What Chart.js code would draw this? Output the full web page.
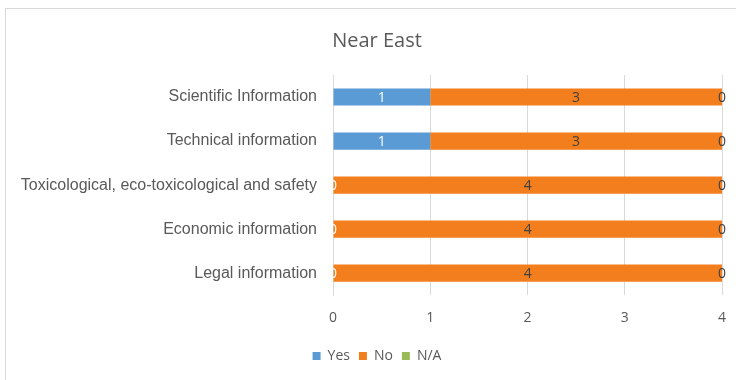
<!DOCTYPE html>
<html>
<head>
<meta charset="utf-8">
<script src="https://cdn.jsdelivr.net/npm/chart.js@4"></script>
<style>
  html, body { margin: 0; padding: 0; background: #fff; }
  #wrap { width: 736px; height: 380px; }
</style>
</head>
<body>
<div id="wrap"><canvas id="barChart" width="736" height="380"></canvas></div>
<script>
// Chart data
const categories = [
    'Scientific Information',
    'Technical information',
    'Toxicological, eco-toxicological and safety',
    'Economic information',
    'Legal information'
];
const yesValues = [1, 1, 0, 0, 0];
const noValues = [3, 3, 4, 4, 4];
const naValues = [0, 0, 0, 0, 0];
const xTicks = [0, 1, 2, 3, 4];

const seriesColors = { yes: '#5b9bd5', no: '#f27e1e', na: '#9bbb59' };
const labelColors = ['#ffffff', '#404040', '#404040'];
const textColor = '#595959';

// White background plus the light frame round the chart
const framePlugin = {
    id: 'frame',
    beforeDraw(chart) {
        const ctx = chart.ctx;
        ctx.save();
        ctx.fillStyle = '#ffffff';
        ctx.fillRect(0, 0, chart.width, chart.height);
        ctx.strokeStyle = '#d9d9d9';
        ctx.lineWidth = 1;
        ctx.strokeRect(5.5, 8.5, chart.width + 20, chart.height + 20);
        ctx.restore();
    }
};

// Value labels centred on each bar segment
const valueLabels = {
    id: 'valueLabels',
    afterDatasetsDraw(chart) {
        const ctx = chart.ctx;
        ctx.save();
        ctx.font = '14px "Open Sans"';
        ctx.textAlign = 'center';
        ctx.textBaseline = 'middle';
        chart.data.datasets.forEach((ds, i) => {
            const meta = chart.getDatasetMeta(i);
            ctx.fillStyle = labelColors[i];
            meta.data.forEach((bar, j) => {
                const cx = (bar.x + bar.base) / 2;
                ctx.fillText(String(ds.data[j]), cx, bar.y + 1);
            });
        });
        ctx.restore();
    }
};

const ctx = document.getElementById('barChart').getContext('2d');
const chart = new Chart(ctx, {
    type: 'bar',
    data: {
        labels: categories,
        datasets: [
            { label: 'Yes', data: yesValues, backgroundColor: seriesColors.yes },
            { label: 'No', data: noValues, backgroundColor: seriesColors.no },
            { label: 'N/A', data: naValues, backgroundColor: seriesColors.na }
        ]
    },
    options: {
        indexAxis: 'y',
        responsive: false,
        animation: false,
        layout: { padding: { left: 18, right: 0, top: 8, bottom: 7 } },
        datasets: {
            bar: { barPercentage: 0.39, categoryPercentage: 1 }
        },
        plugins: {
            title: {
                display: true,
                text: 'Near East',
                color: textColor,
                font: { family: '"Open Sans"', size: 20, weight: 'normal' },
                padding: { top: 21, bottom: 22 }
            },
            legend: {
                position: 'bottom',
                labels: {
                    color: textColor,
                    font: { family: '"Open Sans"', size: 14 },
                    boxWidth: 8,
                    boxHeight: 8,
                    padding: 9
                }
            },
            tooltip: { enabled: false }
        },
        scales: {
            x: {
                stacked: true,
                min: 0,
                max: 4,
                afterBuildTicks: (scale) => {
                    scale.ticks = xTicks.map(v => ({ value: v }));
                },
                afterFit: (scale) => { scale.paddingRight = 14; },
                grid: { color: '#d9d9d9', drawTicks: false },
                border: { display: false },
                ticks: {
                    color: textColor,
                    font: { family: '"Open Sans"', size: 14 },
                    padding: 14
                }
            },
            y: {
                stacked: true,
                afterFit: (scale) => { scale.width = 315; },
                grid: { display: false, drawTicks: false },
                border: { display: true, color: '#d9d9d9' },
                ticks: {
                    color: textColor,
                    font: { family: '"Liberation Sans", Arial', size: 16 },
                    padding: 16
                }
            }
        }
    },
    plugins: [framePlugin, valueLabels]
});
</script>
</body>
</html>
